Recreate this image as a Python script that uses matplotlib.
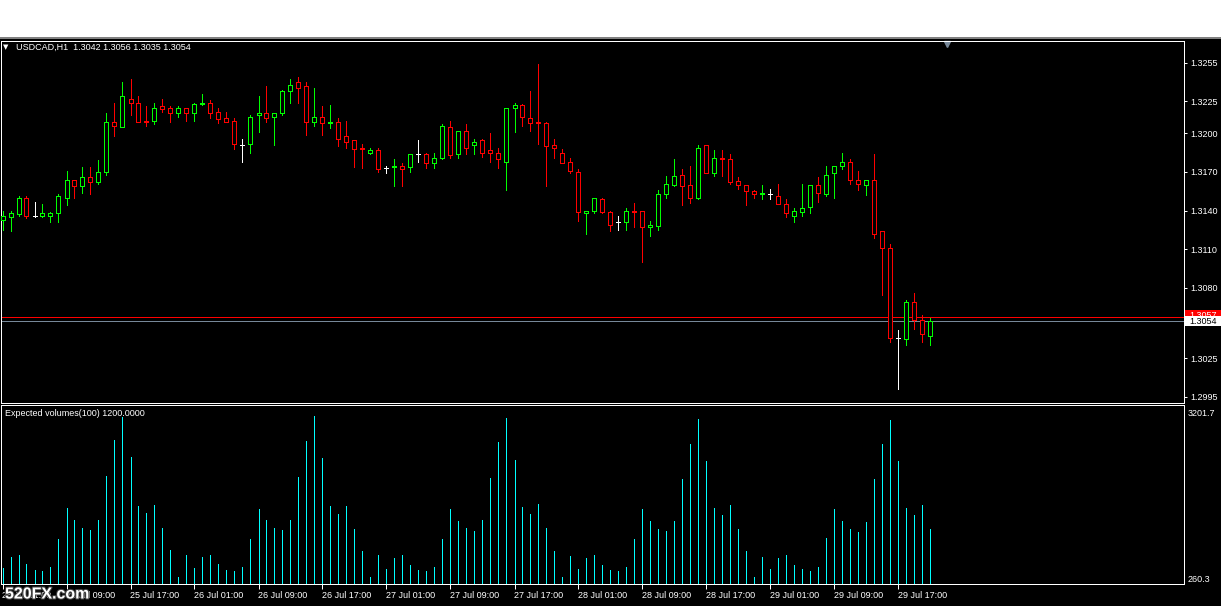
#!/usr/bin/env python3
"""
USDCAD H1 candles with the expected volumes indicator, MT4 look
"""
import numpy as np
import matplotlib
matplotlib.use("Agg")
import matplotlib.pyplot as plt
from matplotlib.patches import Rectangle
import matplotlib.patheffects as pe

plt.rcParams['font.family'] = ['Liberation Sans', 'DejaVu Sans']

# OHLC per hourly bar, 25 Jul 01:00 -> 29 Jul 21:00
opens = [1.3133, 1.3135, 1.3137, 1.3150, 1.3136, 1.3136, 1.3136, 1.3138, 1.3150, 1.3164,
         1.3159, 1.3166, 1.3162, 1.3170, 1.3209, 1.3205, 1.3227, 1.3224, 1.3210, 1.3210,
         1.3221, 1.3220, 1.3216, 1.3220, 1.3216, 1.3223, 1.3224, 1.3217, 1.3212, 1.3210,
         1.3191, 1.3192, 1.3214, 1.3216, 1.3213, 1.3216, 1.3233, 1.3240, 1.3237, 1.3209,
         1.3213, 1.3208, 1.3209, 1.3198, 1.3195, 1.3189, 1.3185, 1.3187, 1.3173, 1.3174,
         1.3175, 1.3174, 1.3184, 1.3184, 1.3177, 1.3181, 1.3205, 1.3184, 1.3202, 1.3191,
         1.3195, 1.3187, 1.3185, 1.3178, 1.3220, 1.3222, 1.3212, 1.3209, 1.3208, 1.3191,
         1.3185, 1.3178, 1.3170, 1.3138, 1.3140, 1.3149, 1.3139, 1.3131, 1.3131, 1.3140,
         1.3140, 1.3127, 1.3128, 1.3153, 1.3160, 1.3168, 1.3160, 1.3150, 1.3191, 1.3169,
         1.3181, 1.3180, 1.3163, 1.3160, 1.3155, 1.3153, 1.3153, 1.3151, 1.3145, 1.3136,
         1.3139, 1.3143, 1.3160, 1.3153, 1.3169, 1.3175, 1.3178, 1.3164, 1.3160, 1.3164,
         1.3124, 1.3111, 1.3041, 1.3040, 1.3069, 1.3055, 1.3042]
highs = [1.3140, 1.3140, 1.3151, 1.3151, 1.3147, 1.3145, 1.3139, 1.3153, 1.3171, 1.3164,
         1.3174, 1.3174, 1.3179, 1.3216, 1.3224, 1.3240, 1.3242, 1.3229, 1.3221, 1.3224,
         1.3227, 1.3221, 1.3221, 1.3220, 1.3224, 1.3231, 1.3226, 1.3220, 1.3217, 1.3212,
         1.3196, 1.3214, 1.3229, 1.3237, 1.3216, 1.3234, 1.3242, 1.3244, 1.3240, 1.3235,
         1.3221, 1.3222, 1.3212, 1.3210, 1.3195, 1.3192, 1.3189, 1.3189, 1.3175, 1.3180,
         1.3177, 1.3184, 1.3195, 1.3185, 1.3185, 1.3207, 1.3210, 1.3202, 1.3207, 1.3196,
         1.3196, 1.3200, 1.3189, 1.3220, 1.3224, 1.3223, 1.3233, 1.3254, 1.3209, 1.3196,
         1.3188, 1.3181, 1.3172, 1.3140, 1.3150, 1.3150, 1.3140, 1.3136, 1.3142, 1.3146,
         1.3140, 1.3132, 1.3156, 1.3167, 1.3180, 1.3172, 1.3175, 1.3191, 1.3191, 1.3187,
         1.3187, 1.3184, 1.3166, 1.3160, 1.3156, 1.3160, 1.3157, 1.3161, 1.3149, 1.3142,
         1.3161, 1.3160, 1.3166, 1.3175, 1.3175, 1.3185, 1.3180, 1.3171, 1.3164, 1.3184,
         1.3124, 1.3114, 1.3047, 1.3070, 1.3076, 1.3059, 1.3056]
lows = [1.3125, 1.3124, 1.3136, 1.3134, 1.3135, 1.3135, 1.3131, 1.3131, 1.3144, 1.3150,
        1.3154, 1.3153, 1.3161, 1.3168, 1.3198, 1.3205, 1.3214, 1.3209, 1.3206, 1.3207,
        1.3217, 1.3209, 1.3213, 1.3210, 1.3210, 1.3222, 1.3212, 1.3208, 1.3209, 1.3188,
        1.3178, 1.3185, 1.3201, 1.3209, 1.3191, 1.3214, 1.3224, 1.3224, 1.3199, 1.3206,
        1.3199, 1.3204, 1.3190, 1.3189, 1.3174, 1.3173, 1.3184, 1.3170, 1.3169, 1.3159,
        1.3159, 1.3170, 1.3178, 1.3173, 1.3173, 1.3180, 1.3181, 1.3181, 1.3184, 1.3184,
        1.3182, 1.3178, 1.3173, 1.3156, 1.3201, 1.3206, 1.3202, 1.3192, 1.3159, 1.3181,
        1.3177, 1.3169, 1.3132, 1.3122, 1.3138, 1.3138, 1.3124, 1.3125, 1.3125, 1.3127,
        1.3100, 1.3120, 1.3125, 1.3150, 1.3159, 1.3144, 1.3146, 1.3149, 1.3169, 1.3167,
        1.3167, 1.3161, 1.3157, 1.3144, 1.3150, 1.3149, 1.3149, 1.3145, 1.3135, 1.3131,
        1.3136, 1.3138, 1.3147, 1.3151, 1.3150, 1.3172, 1.3161, 1.3156, 1.3152, 1.3119,
        1.3074, 1.3038, 1.3001, 1.3035, 1.3048, 1.3038, 1.3035]
closes = [1.3136, 1.3138, 1.3150, 1.3136, 1.3136, 1.3138, 1.3138, 1.3151, 1.3164, 1.3159,
          1.3166, 1.3162, 1.3170, 1.3209, 1.3206, 1.3229, 1.3224, 1.3209, 1.3209, 1.3220,
          1.3219, 1.3216, 1.3220, 1.3216, 1.3223, 1.3224, 1.3216, 1.3211, 1.3209, 1.3192,
          1.3191, 1.3213, 1.3216, 1.3212, 1.3216, 1.3233, 1.3238, 1.3235, 1.3209, 1.3213,
          1.3208, 1.3209, 1.3196, 1.3193, 1.3188, 1.3188, 1.3187, 1.3172, 1.3173, 1.3175,
          1.3172, 1.3184, 1.3184, 1.3177, 1.3181, 1.3206, 1.3183, 1.3202, 1.3189, 1.3193,
          1.3185, 1.3185, 1.3180, 1.3220, 1.3222, 1.3213, 1.3208, 1.3208, 1.3190, 1.3189,
          1.3177, 1.3171, 1.3139, 1.3140, 1.3150, 1.3139, 1.3129, 1.3131, 1.3140, 1.3139,
          1.3127, 1.3129, 1.3153, 1.3161, 1.3167, 1.3159, 1.3150, 1.3189, 1.3169, 1.3181,
          1.3180, 1.3162, 1.3160, 1.3155, 1.3153, 1.3154, 1.3153, 1.3145, 1.3138, 1.3140,
          1.3142, 1.3160, 1.3154, 1.3168, 1.3175, 1.3178, 1.3164, 1.3161, 1.3164, 1.3122,
          1.3111, 1.3041, 1.3041, 1.3069, 1.3055, 1.3044, 1.3054]

# expected volumes indicator, one value per bar
volumes = [461, 650, 685, 520, 425, 408, 473, 969, 1518, 1305, 1164, 1128, 1305, 2091, 2729,
           3136, 2428, 1553, 1435, 1571, 1164, 774, 296, 685, 455, 650, 685, 526, 425, 408,
           473, 969, 1500, 1305, 1164, 1128, 1305, 2073, 2711, 3148, 2410, 1553, 1418, 1553,
           1146, 756, 296, 685, 443, 632, 685, 508, 425, 408, 473, 969, 1500, 1288, 1164,
           1116, 1305, 2050, 2687, 3113, 2369, 1536, 1412, 1589, 1164, 756, 296, 668, 437,
           632, 685, 508, 420, 402, 473, 969, 1500, 1288, 1146, 1111, 1288, 2032, 2652, 3095,
           2351, 1518, 1394, 1571, 1146, 756, 296, 650, 437, 632, 685, 508, 437, 402, 473,
           987, 1500, 1288, 1146, 1093, 1270, 2032, 2652, 3077, 2351, 1518, 1394, 1571, 1146]

time_labels = ['25 Jul 01:00', '25 Jul 09:00', '25 Jul 17:00', '26 Jul 01:00', '26 Jul 09:00',
               '26 Jul 17:00', '27 Jul 01:00', '27 Jul 09:00', '27 Jul 17:00', '28 Jul 01:00',
               '28 Jul 09:00', '28 Jul 17:00', '29 Jul 01:00', '29 Jul 09:00', '29 Jul 17:00']
price_ticks = [1.3255, 1.3225, 1.3200, 1.3170, 1.3140, 1.3110, 1.3080, 1.3025, 1.2995]
ask = 1.3057
bid = 1.3054

W, H = 1221, 606
def fx(px):
    return px / W
def fy(py):
    return 1 - py / H

LW = 0.72  # one pixel at 100 dpi

fig = plt.figure(figsize=(W / 100, H / 100), dpi=100, facecolor='black')
# white title strip of the terminal window
fig.patches.append(Rectangle((0, fy(37)), 1, 37 / H, transform=fig.transFigure,
                             facecolor='white', edgecolor='none'))
fig.patches.append(Rectangle((0, fy(39)), 1, 2 / H, transform=fig.transFigure,
                             facecolor='#808080', edgecolor='none'))

ax1 = fig.add_axes([fx(1), fy(403), (1184 - 1) / W, (403 - 41) / H])
ax2 = fig.add_axes([fx(1), fy(584), (1184 - 1) / W, (584 - 405) / H])

o = np.array(opens); h = np.array(highs); l = np.array(lows); c = np.array(closes)
x = np.arange(len(o))
colors = np.where(c > o, '#00ff00', np.where(c < o, '#ff0000', '#ffffff'))

ax1.vlines(x, l, h, colors=colors, lw=LW, antialiased=False, zorder=2)
ax1.bar(x, np.abs(c - o), bottom=np.minimum(o, c), width=0.5, facecolor='black',
        edgecolor=colors, linewidth=LW, antialiased=False, zorder=3)
ax1.axhline(ask, color='#ff0000', lw=LW, antialiased=False, zorder=1)
ax1.axhline(bid, color='#778899', lw=LW, antialiased=False, zorder=1)

ax2.vlines(x, 0, volumes, colors='#00ffff', lw=LW, antialiased=False)

# bar i sits on pixel column 2 + 8*i, axes span pixels 1..1184
xlim = ((1 - 2.5) / 8, (1184 - 2.5) / 8)
for ax in (ax1, ax2):
    ax.set_facecolor('black')
    ax.set_xlim(*xlim)
    for s in ax.spines.values():
        s.set_color('white')
        s.set_linewidth(LW)
    ax.yaxis.tick_right()

ax1.set_ylim(1.299025, 1.327188)
ax1.set_yticks(price_ticks, ['%.4f' % p for p in price_ticks])
ax1.tick_params(axis='y', colors='white', labelsize=6.5, length=2.2, width=LW, pad=2)
ax1.set_xticks([])

ax2.set_ylim(171.7, 3343.4)
ax2.set_yticks([])
ax2.set_xticks(x[::8][:len(time_labels)], time_labels, ha='left')
ax2.tick_params(axis='x', colors='white', labelsize=6.5, length=3.6, width=LW, pad=1.5)

# header and indicator captions
fig.text(fx(6), fy(47), '\u25bc', color='white', fontsize=5, family='DejaVu Sans',
         ha='center', va='center')
fig.text(fx(16), fy(47), 'USDCAD,H1  1.3042 1.3056 1.3035 1.3054', color='white',
         fontsize=6.5, va='center')
fig.text(fx(5), fy(414), 'Expected volumes(100) 1200.0000', color='white',
         fontsize=6.5, va='center')
fig.text(fx(1188), fy(413), '3201.7', color='white', fontsize=6.5, va='center')
fig.text(fx(1188), fy(579), '260.3', color='white', fontsize=6.5, va='center')

# chart shift marker
ax1.plot([(946.7 - 1) / 1183], [1 - 2.5 / 362], marker='v', color='#778899',
         markersize=5, transform=ax1.transAxes, clip_on=False)

# current price boxes on the price scale
fig.patches.append(Rectangle((fx(1185), fy(320)), 36 / W, 10 / H, transform=fig.transFigure,
                             facecolor='#ff0000', edgecolor='none'))
fig.text(fx(1189), fy(315), '%.4f' % ask, color='white', fontsize=6.5, va='center')
fig.patches.append(Rectangle((fx(1185), fy(326)), 36 / W, 10 / H, transform=fig.transFigure,
                             facecolor='white', edgecolor='none', zorder=5))
fig.text(fx(1189), fy(321), '%.4f' % bid, color='black', fontsize=6.5, va='center', zorder=6)

# site watermark
fig.text(fx(5), fy(594), '520FX.com', color='white', fontsize=11.5, fontweight='bold',
         va='center', path_effects=[pe.withStroke(linewidth=1.5, foreground='#404040')])

fig.savefig('out.png', dpi=100, facecolor=fig.get_facecolor())
